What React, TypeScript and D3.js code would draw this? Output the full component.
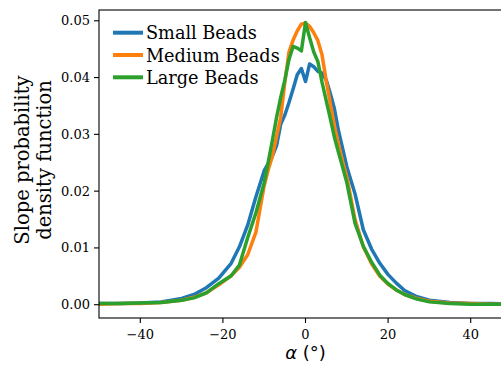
import React from "react";
import * as d3 from "d3";

const alphas = [-50,-45,-40,-35,-30,-27,-24,-21,-18,-16,-14,-12,-10,-9,-8,-7,-6,-5,-4,-3,-2,-1,0,1,2,3,4,5,6,7,8,9,10,12,14,16,18,20,22,24,27,30,35,40,45,50];

const smallBeads = [0.0002,0.0002,0.0003,0.0005,0.0011,0.0018,0.0030,0.0047,0.0073,0.0102,0.0140,0.0190,0.0236,0.0249,0.0262,0.0280,0.0318,0.0334,0.0356,0.0380,0.0405,0.0416,0.0393,0.0424,0.0419,0.0411,0.0408,0.0396,0.0372,0.0345,0.0306,0.0275,0.0243,0.0195,0.0132,0.0098,0.0073,0.0053,0.0038,0.0025,0.0014,0.0008,0.0004,0.0002,0.0002,0.0001];

const mediumBeads = [0.0001,0.0002,0.0002,0.0004,0.0008,0.0013,0.0021,0.0035,0.0051,0.0066,0.0088,0.0128,0.0210,0.0238,0.0262,0.0296,0.0330,0.0392,0.0445,0.0466,0.0482,0.0494,0.0496,0.0490,0.0479,0.0465,0.0440,0.0395,0.0355,0.0315,0.0282,0.0252,0.0225,0.0150,0.0102,0.0072,0.0050,0.0036,0.0026,0.0018,0.0011,0.0006,0.0003,0.0002,0.0001,0.0001];

const largeBeads = [0.0002,0.0002,0.0003,0.0004,0.0008,0.0012,0.0021,0.0037,0.0051,0.0070,0.0118,0.0162,0.0215,0.0252,0.0290,0.0330,0.0365,0.0396,0.0432,0.0455,0.0452,0.0447,0.0497,0.0470,0.0445,0.0428,0.0392,0.0360,0.0328,0.0295,0.0268,0.0242,0.0215,0.0143,0.0103,0.0075,0.0052,0.0037,0.0026,0.0018,0.0010,0.0005,0.0002,0.0001,0.0001,0.0001];

const seriesNames = ["Small Beads", "Medium Beads", "Large Beads"];
const seriesColors = ["#1f77b4", "#ff7f0e", "#2ca02c"];
const xTicks = [-40, -20, 0, 20, 40];
const yTicks = [0, 0.01, 0.02, 0.03, 0.04, 0.05];

const W = 501, H = 365;
const L = 99, R = 512, T = 10, B = 318;

export default function App() {
  const x = d3.scaleLinear().domain([-50, 50]).range([L, R]);
  const y = d3.scaleLinear().domain([-0.00234, 0.0519]).range([B, T]);
  const all = [smallBeads, mediumBeads, largeBeads];
  const line = d3.line<number>().x((_, i) => x(alphas[i])).y((d) => y(d));
  const fmtX = (v: number) => (v < 0 ? "\u2212" + Math.abs(v) : String(v));
  const serif = "DejaVu Serif";
  return (
    <svg width={W} height={H} style={{ position: "absolute", left: 0, top: 0, background: "#fff" }}>
      <defs>
        <clipPath id="plot">
          <rect x={L} y={T} width={R - L} height={B - T} />
        </clipPath>
      </defs>
      <rect x={0} y={0} width={W} height={H} fill="#fff" />
      <g clipPath="url(#plot)">
        {all.map((s, k) => (
          <path key={k} d={line(s) || ""} fill="none" stroke={seriesColors[k]} strokeWidth={3.5} strokeLinejoin="round" strokeLinecap="square" />
        ))}
      </g>
      <rect x={L} y={T} width={R - L} height={B - T} fill="none" stroke="#000" strokeWidth={1.1} />
      {yTicks.map((t) => (
        <g key={t}>
          <line x1={L - 5} x2={L} y1={y(t)} y2={y(t)} stroke="#000" strokeWidth={1.1} />
          <text x={L - 9} y={y(t)} dy="0.35em" textAnchor="end" style={{ fontFamily: serif }} fontSize={13} fill="#000">
            {t.toFixed(2)}
          </text>
        </g>
      ))}
      {xTicks.map((t) => (
        <g key={t}>
          <line x1={x(t)} x2={x(t)} y1={B} y2={B + 5} stroke="#000" strokeWidth={1.1} />
          <text x={x(t)} y={339} textAnchor="middle" style={{ fontFamily: serif }} fontSize={13} fill="#000">
            {fmtX(t)}
          </text>
        </g>
      ))}
      <text x={305.5} y={359} textAnchor="middle" style={{ fontFamily: "DejaVu Sans" }} fontSize={18} fill="#000">
        <tspan fontStyle="italic">α</tspan> (°)
      </text>
      <g transform="translate(0,160) rotate(-90)" style={{ fontFamily: serif }} fontSize={19.5} fill="#000">
        <text x={0} y={28.5} textAnchor="middle">Slope probability</text>
        <text x={0} y={50.5} textAnchor="middle">density function</text>
      </g>
      {seriesNames.map((n, k) => {
        const ly = 32.7 + k * 22.3;
        return (
          <g key={n}>
            <line x1={113} x2={143} y1={ly} y2={ly} stroke={seriesColors[k]} strokeWidth={4} />
            <text x={146} y={ly + 6.6} style={{ fontFamily: serif }} fontSize={17.7} fill="#000">{n}</text>
          </g>
        );
      })}
    </svg>
  );
}
